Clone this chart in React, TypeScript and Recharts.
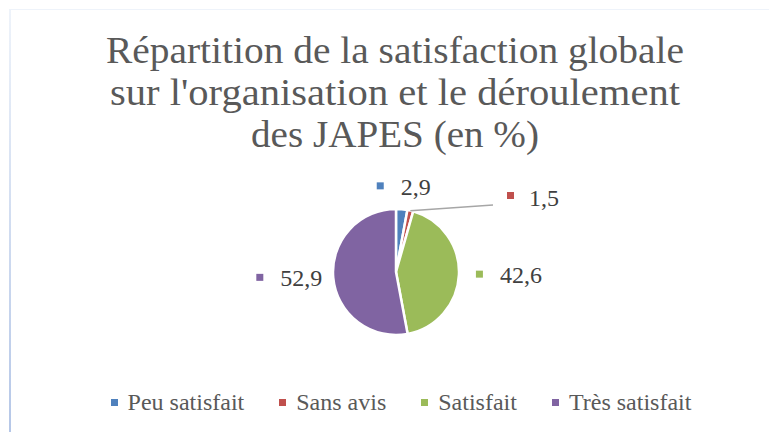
import React from 'react';
import { PieChart, Pie, Cell, Legend } from 'recharts';

const categories = ['Peu satisfait', 'Sans avis', 'Satisfait', 'Très satisfait'];
const values = [2.9, 1.5, 42.6, 52.9];
const valueLabels = ['2,9', '1,5', '42,6', '52,9'];
const colors = ['#4F81BD', '#C0504D', '#9BBB59', '#8064A2'];
const titleLines = [
  'Répartition de la satisfaction globale',
  "sur l'organisation et le déroulement",
  'des JAPES (en %)',
];

const data = categories.map((name, i) => ({ name, value: values[i] }));

const FONT = "'Liberation Serif', 'Times New Roman', serif";
const W = 769;
const H = 432;
const CX = 396;
const CY = 272;
const R = 63;

// label layout (style config, not data)
const LABEL_GAP = [22, 0, 17, 11];
const LABEL_FS = 24;

const textWidth = (s: string) => {
  let w = 0;
  for (const ch of s) w += ch === ',' ? 0.25 : 0.5;
  return w * LABEL_FS;
};

const renderLabel = (props: any) => {
  const { cx, cy, midAngle, outerRadius, index } = props;
  const rad = Math.PI / 180;
  const cos = Math.cos(-midAngle * rad);
  const sin = Math.sin(-midAngle * rad);
  const color = colors[index];
  const text = valueLabels[index];
  const tw = textWidth(text);
  if (index === 1) {
    const sx = cx + outerRadius * cos;
    const sy = cy + outerRadius * sin;
    const ex = cx + 97;
    const ey = cy - 67;
    return (
      <g key={`lbl-${index}`}>
        <line x1={sx} y1={sy} x2={ex} y2={ey} stroke="#A6A6A6" strokeWidth={1.5} />
        <rect x={ex + 14} y={ey - 13} width={7} height={7} fill={color} />
        <text x={ex + 36} y={ey + 1} fontFamily={FONT} fontSize={LABEL_FS} fill="#404040">
          {text}
        </text>
      </g>
    );
  }
  const rr = outerRadius + LABEL_GAP[index];
  const ax = cx + rr * cos;
  const ay = cy + rr * sin;
  const blockW = 7 + 17 + tw;
  let left: number;
  if (cos > 0.3) left = ax;
  else if (cos < -0.3) left = ax - blockW;
  else left = ax - blockW / 2;
  return (
    <g key={`lbl-${index}`}>
      <rect x={left} y={ay - 5} width={7} height={7} fill={color} />
      <text x={left + 24} y={ay + 7.5} fontFamily={FONT} fontSize={LABEL_FS} fill="#404040">
        {text}
      </text>
    </g>
  );
};

const renderLegend = () => (
  <div
    style={{
      display: 'flex',
      justifyContent: 'center',
      alignItems: 'center',
      paddingLeft: 33,
      fontFamily: FONT,
      fontSize: 24,
      lineHeight: '24px',
      color: '#595959',
    }}
  >
    {categories.map((c, i) => (
      <div
        key={c}
        style={{ display: 'flex', alignItems: 'center', marginRight: i < categories.length - 1 ? 35 : 0 }}
      >
        <span style={{ display: 'inline-block', width: 7, height: 7, background: colors[i], marginRight: 10 }} />
        <span style={{ whiteSpace: 'nowrap' }}>{c}</span>
      </div>
    ))}
  </div>
);

const TITLE_LEN = [578, 570, 288];
const TITLE_Y = [63, 105, 147];

export default function App() {
  return (
    <div style={{ position: 'absolute', left: 0, top: 0, width: W, height: H, background: '#fff', overflow: 'hidden' }}>
      <div
        style={{
          position: 'absolute',
          left: 9,
          top: 9,
          width: 1.5,
          height: H,
          background: 'linear-gradient(#eef3fa, #b4c6e7)',
        }}
      />
      <div style={{ position: 'absolute', left: 9, top: 9, width: W, height: 1, background: '#eef3fa' }} />
      <div style={{ position: 'absolute', left: 0, top: 0 }}>
        <PieChart width={W} height={H} margin={{ top: 0, right: 0, bottom: 0, left: 0 }}>
          {titleLines.map((t, i) => (
            <text
              key={t}
              x={395}
              y={TITLE_Y[i]}
              textAnchor="middle"
              fontFamily={FONT}
              fontSize={38}
              fill="#595959"
              textLength={TITLE_LEN[i]}
              lengthAdjust="spacingAndGlyphs"
            >
              {t}
            </text>
          ))}
          <Pie
            data={data}
            dataKey="value"
            nameKey="name"
            cx={CX}
            cy={CY}
            outerRadius={R}
            startAngle={90}
            endAngle={-270}
            stroke="#ffffff"
            strokeWidth={2.5}
            label={renderLabel}
            labelLine={false}
            isAnimationActive={false}
          >
            {data.map((d, i) => (
              <Cell key={d.name} fill={colors[i]} />
            ))}
          </Pie>
          <Legend content={renderLegend} wrapperStyle={{ position: 'absolute', top: 390, left: 0, width: W }} />
        </PieChart>
      </div>
    </div>
  );
}
